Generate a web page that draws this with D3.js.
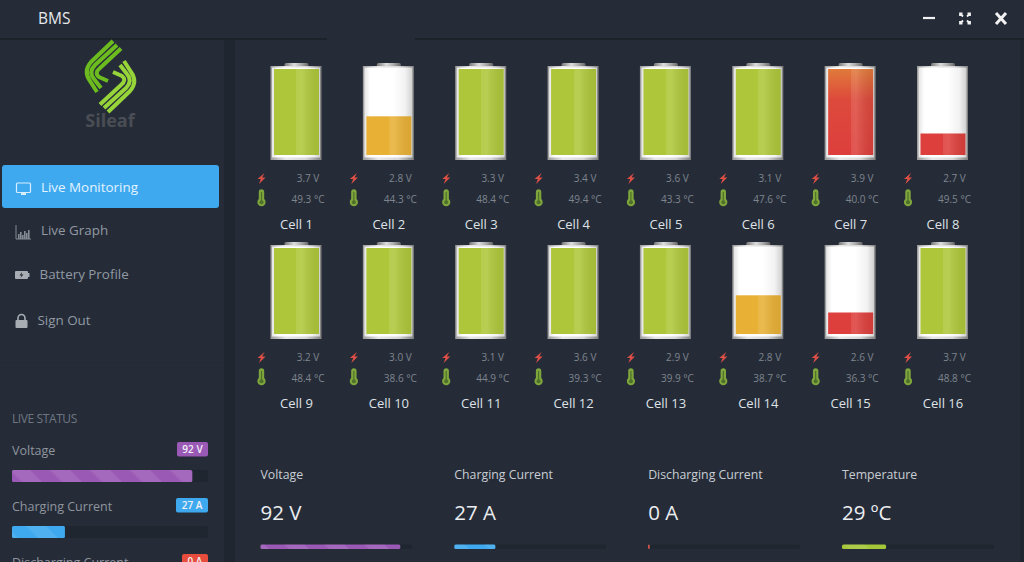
<!DOCTYPE html>
<html>
<head>
<meta charset="utf-8">
<script src="https://cdnjs.cloudflare.com/ajax/libs/d3/7.8.5/d3.min.js"></script>
<style>
  html, body { margin: 0; padding: 0; background: #252c38; overflow: hidden; }
  svg { display: block; font-family: "Open Sans", sans-serif; }
</style>
</head>
<body>
<svg id="chart" width="1024" height="562"></svg>
<script>
const cellNames = ['Cell 1','Cell 2','Cell 3','Cell 4','Cell 5','Cell 6','Cell 7','Cell 8',
  'Cell 9','Cell 10','Cell 11','Cell 12','Cell 13','Cell 14','Cell 15','Cell 16'];
const cellVolts = [3.7,2.8,3.3,3.4,3.6,3.1,3.9,2.7,3.2,3.0,3.1,3.6,2.9,2.8,2.6,3.7];
const cellTemps = [49.3,44.3,48.4,49.4,43.3,47.6,40.0,49.5,48.4,38.6,44.9,39.3,39.9,38.7,36.3,48.8];
const cellLevels = [100,45,100,100,100,100,100,25,100,100,100,100,100,45,25,100];
const cellStates = ['ok','warn','ok','ok','ok','ok','over','low','ok','ok','ok','ok','ok','warn','low','ok'];

const navItems = ['Live Monitoring','Live Graph','Battery Profile','Sign Out'];
const statusLabels = ['Voltage','Charging Current','Discharging Current','Temperature'];
const statusValues = [92,27,1,29];
const statusTexts = ['92 V','27 A','0 A','29 ºC'];
const sideBadges = ['92 V','27 A','0 A'];

const stateColors = { ok: '#aec73a', warn: '#e8b035', over: '#dd3f3c', low: '#dd3f3c' };
const statusColors = ['#9b59b6','#3fa9f0','#e74c3c','#a4c639'];

const svg = d3.select('#chart');
const defs = svg.append('defs');

// Stripes like a bootstrap progress bar
const stripes = defs.append('pattern').attr('id','stripes').attr('patternUnits','userSpaceOnUse')
  .attr('width',40).attr('height',40).attr('patternTransform','rotate(45) scale(0.7071)');
stripes.append('rect').attr('width',40).attr('height',20).attr('y',0).attr('fill','rgba(255,255,255,0.09)');

function hGrad(id, stops) {
  const g = defs.append('linearGradient').attr('id',id);
  stops.forEach(s => g.append('stop').attr('offset',s[0]).attr('stop-color',s[1]).attr('stop-opacity',s[2] === undefined ? 1 : s[2]));
}
hGrad('shine', [[0,'#fff',0],[0.5,'#fff',0],[0.5,'#fff',0.1],[0.62,'#fff',0.13],[1,'#000',0.06]]);
hGrad('glass', [[0,'#e4e4e4'],[0.12,'#fff'],[0.6,'#fff'],[0.85,'#f2f2f2'],[1,'#d0d0d0']]);
hGrad('frame', [[0,'#9a9a9a'],[0.3,'#e8e8e8'],[0.7,'#d8d8d8'],[1,'#808080']]);
hGrad('cap', [[0,'#777'],[0.4,'#ddd'],[0.7,'#aaa'],[1,'#666']]);
const overTop = defs.append('linearGradient').attr('id','overTop').attr('x1',0).attr('x2',0).attr('y1',0).attr('y2',1);
overTop.append('stop').attr('offset',0).attr('stop-color','#e07a3a');
overTop.append('stop').attr('offset',0.35).attr('stop-color','#dd4a3c');
overTop.append('stop').attr('offset',1).attr('stop-color','#dd3f3c');

// Panels
svg.append('rect').attr('width',1024).attr('height',562).attr('fill','#252c38');
svg.append('rect').attr('x',224).attr('y',38).attr('width',11).attr('height',524).attr('fill','#20262f');
svg.append('rect').attr('x',1020).attr('y',38).attr('width',4).attr('height',524).attr('fill','#20262f');
svg.append('rect').attr('y',38).attr('width',1024).attr('height',2).attr('fill','#1c222a');
svg.append('rect').attr('x',327).attr('y',38).attr('width',88).attr('height',2).attr('fill','#252c38');
svg.append('rect').attr('y',362).attr('width',224).attr('height',1).attr('fill','#232a34');

svg.append('text').attr('x',38).attr('y',23.5).attr('font-size',15.5).attr('fill','#e6e8ec').text('BMS');

// Window buttons
const btn = svg.append('g').attr('stroke','#f2f2f2').attr('fill','none');
btn.append('line').attr('x1',923).attr('x2',935).attr('y1',18).attr('y2',18).attr('stroke-width',2.2);
[[-1,-1],[1,-1],[-1,1],[1,1]].forEach(([a,b]) => {
  btn.append('path').attr('stroke-width',1.8)
    .attr('d',`M${965+a*5},${18.5+b*2.5}V${18.5+b*5}H${965+a*2.5}M${965+a*5},${18.5+b*5}L${965+a*2},${18.5+b*2}`);
});
btn.append('path').attr('stroke-width',3).attr('d','M996,13L1006,24M1006,13L996,24');

// Logo, two banded halves mirrored around the centre
const logoBands = [
  'M113,41L91,62Q83,71 90,81L97,92',
  'M117,45L95,65Q88,72 94,79L101,88',
  'M121,48.5L100,68Q94,73 99,77L108,81'
];
const logo = svg.append('g').attr('fill','none').attr('stroke-width',4);
logoBands.forEach(d => {
  logo.append('path').attr('stroke','#6cbb1f').attr('d',d);
  logo.append('path').attr('stroke','#96d43a').attr('d',d).attr('transform','rotate(180,110.5,76.5)');
});
svg.append('text').attr('x',110).attr('y',127).attr('text-anchor','middle').attr('font-size',18).attr('font-weight',700)
  .attr('fill','#4a4e54').text('Sileaf');

// Sidebar nav
svg.append('rect').attr('x',2).attr('y',165).attr('width',217).attr('height',43).attr('rx',3).attr('fill','#3fa9f0');
const navX = [41,41,39.5,37.5];
const navY = [192,235,278.5,325];
navItems.forEach((t,i) => {
  svg.append('text').attr('x',navX[i]).attr('y',navY[i]).attr('font-size',13.4)
    .attr('fill', i === 0 ? '#e3f3ff' : '#9299a3').text(t);
});
// nav icons
svg.append('rect').attr('x',16.5).attr('y',183).attr('width',14).attr('height',9.5).attr('rx',1).attr('fill','none').attr('stroke','#d8eeff').attr('stroke-width',1.2);
svg.append('rect').attr('x',21).attr('y',193).attr('width',5).attr('height',2).attr('fill','#d8eeff');
const bars = svg.append('g').attr('fill','#858b94');
svg.append('path').attr('d','M16,225V239H31').attr('fill','none').attr('stroke','#858b94');
[[18,234],[20,232],[22,235],[24,231],[26,233],[28,230]].forEach(b => bars.append('rect').attr('x',b[0]).attr('y',b[1]).attr('width',1.6).attr('height',239-b[1]));
svg.append('rect').attr('x',15).attr('y',271).attr('width',13).attr('height',8).attr('rx',1).attr('fill','#a8adb3');
svg.append('rect').attr('x',28).attr('y',273).attr('width',1.5).attr('height',4).attr('fill','#a8adb3');
svg.append('path').attr('d','M22,272L19.5,275.5H21.5L20.5,278L23.5,274.5H21.5Z').attr('fill','#252c38');
svg.append('rect').attr('x',15.5).attr('y',320).attr('width',12).attr('height',8).attr('rx',1).attr('fill','#a8adb3');
svg.append('path').attr('d','M18,320V318A3.5,3.5 0 0 1 25,318V320').attr('fill','none').attr('stroke','#a8adb3').attr('stroke-width',1.6);

// Scales
const colIndex = d3.range(8);
const xCell = d3.scalePoint().domain(colIndex).range([296.5, 943]);
const yRow = d3.scalePoint().domain([0,1]).range([0, 179]);
const yLevel = d3.scaleLinear().domain([0,100]).range([155, 69]);

const cells = svg.selectAll('.cell').data(cellNames).enter().append('g').attr('class','cell')
  .attr('transform',(d,i) => `translate(${xCell(i % 8)},${yRow(Math.floor(i / 8))})`);

cells.append('rect').attr('x',-12).attr('y',63).attr('width',24).attr('height',4).attr('rx',1.5).attr('fill','url(#cap)');
cells.append('rect').attr('x',-26).attr('y',66).attr('width',51).attr('height',94).attr('fill','url(#frame)');
cells.append('rect').attr('x',-24.5).attr('y',67.5).attr('width',48).attr('height',90).attr('fill','url(#glass)');
cells.append('rect').attr('x',-22.5).attr('width',45)
  .attr('y',(d,i) => yLevel(cellLevels[i]))
  .attr('height',(d,i) => yLevel(0) - yLevel(cellLevels[i]))
  .attr('fill',(d,i) => cellStates[i] === 'over' ? 'url(#overTop)' : stateColors[cellStates[i]]);
cells.append('rect').attr('x',-22.5).attr('width',45)
  .attr('y',(d,i) => yLevel(cellLevels[i]))
  .attr('height',(d,i) => yLevel(0) - yLevel(cellLevels[i]))
  .attr('fill','url(#shine)');

// bolt and thermometer
cells.append('path').attr('fill','#de4f45')
  .attr('d','M-32,173L-39,179H-35.7L-37.5,184L-31,177.5H-34.3Z');
cells.append('path').attr('fill','#7fa63c')
  .attr('d','M-37.7,192a2.7,2.7 0 0 1 5.4,0V199a4.1,4.1 0 1 1 -5.4,0Z');
cells.append('rect').attr('x',-35.6).attr('y',192).attr('width',1.2).attr('height',10).attr('fill','#4f6f2a');
cells.append('circle').attr('cx',-35).attr('cy',202.3).attr('r',2).attr('fill','#4f6f2a');

cells.append('text').attr('x',11.5).attr('y',181.5).attr('text-anchor','middle').attr('font-size',10).attr('fill','#7f858e')
  .text((d,i) => cellVolts[i].toFixed(1) + ' V');
cells.append('text').attr('x',11.5).attr('y',202.5).attr('text-anchor','middle').attr('font-size',10).attr('fill','#7f858e')
  .text((d,i) => cellTemps[i].toFixed(1) + ' °C');
cells.append('text').attr('x',0).attr('y',229).attr('text-anchor','middle').attr('font-size',13).attr('fill','#dfe2e6')
  .text(d => d);

// Live status in the sidebar
const xSide = d3.scaleLinear().domain([0,100]).range([12,208]);
const sideY = [470,526,582];
const badgeWidths = [31,32,26];
svg.append('text').attr('x',12).attr('y',423).attr('font-size',12).attr('letter-spacing',-0.4).attr('fill','#6f7681').text('LIVE STATUS');
sideBadges.forEach((b,i) => {
  const y = sideY[i];
  svg.append('text').attr('x',12).attr('y',y - 15).attr('font-size',12.5).attr('fill','#8f959e').text(statusLabels[i]);
  svg.append('rect').attr('x',208 - badgeWidths[i]).attr('y',y - 28).attr('width',badgeWidths[i]).attr('height',14.5).attr('rx',2).attr('fill',statusColors[i]);
  svg.append('text').attr('x',208 - badgeWidths[i] / 2).attr('y',y - 17).attr('text-anchor','middle').attr('font-size',10).attr('font-weight',600).attr('fill','#f0f0f5').text(b);
  svg.append('rect').attr('x',12).attr('y',y).attr('width',xSide(100) - 12).attr('height',12).attr('rx',2).attr('fill','#20262f');
  svg.append('rect').attr('x',12).attr('y',y).attr('width',xSide(statusValues[i]) - 12).attr('height',12).attr('rx',1.5).attr('fill',statusColors[i]);
  svg.append('rect').attr('x',12).attr('y',y).attr('width',xSide(statusValues[i]) - 12).attr('height',12).attr('fill','url(#stripes)');
});

// Bottom summary blocks
const xBlock = d3.scalePoint().domain(d3.range(4)).range([260.5, 842]);
const wBar = d3.scaleLinear().domain([0,100]).range([0,152]);
statusLabels.forEach((t,i) => {
  const x = xBlock(i);
  svg.append('text').attr('x',x).attr('y',478.5).attr('font-size',12.3).attr('fill','#c9cdd3').text(t);
  svg.append('text').attr('x',x).attr('y',520).attr('font-size',20.5).attr('fill','#eceef1').text(statusTexts[i]);
  svg.append('rect').attr('x',x).attr('y',544.5).attr('width',wBar(100)).attr('height',4.5).attr('rx',2).attr('fill','#20262f');
  svg.append('rect').attr('x',x).attr('y',544.5).attr('width',wBar(statusValues[i])).attr('height',4.5).attr('rx',1.5).attr('fill',statusColors[i]);
  svg.append('rect').attr('x',x).attr('y',544.5).attr('width',wBar(statusValues[i])).attr('height',4.5).attr('fill','url(#stripes)');
});
</script>
</body>
</html>
